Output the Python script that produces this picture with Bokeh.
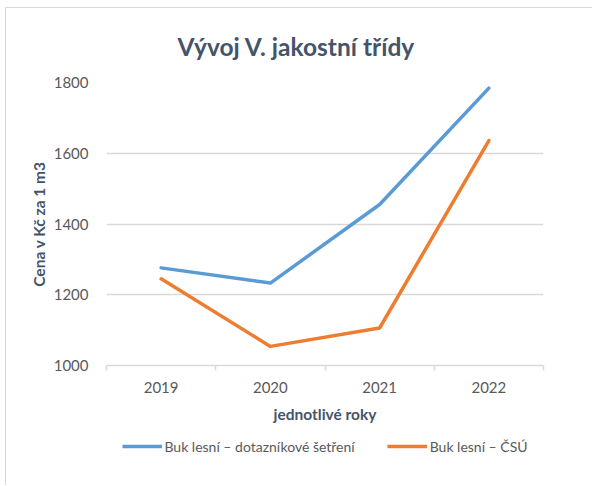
from bokeh.plotting import figure
from bokeh.layouts import column
from bokeh.models import (Range1d, LinearAxis, FixedTicker, Legend, LegendItem, Title, Grid)
from bokeh.embed import file_html
from bokeh.resources import INLINE

years = ["2019", "2020", "2021", "2022"]
dotaznik = [1276, 1233, 1455, 1784]
csu = [1245, 1054, 1106, 1636]
y_ticks = [1000, 1200, 1400, 1600, 1800]
series_names = ["Buk lesní – dotazníkové šetření", "Buk lesní – ČSÚ"]
series_colors = ["#5B9BD5", "#ED7D31"]

FONT = "Lato"
GRID = "#D9D9D9"
DARK = "#44546A"
GRAY = "#595959"

# category slots: each year occupies one unit, centred at i + 0.5
centers = [i + 0.5 for i in range(len(years))]
edges = list(range(len(years) + 1))

p = figure(width=587, height=429, x_range=Range1d(0, len(years)), y_range=Range1d(1000, 1800),
           x_axis_location=None, y_axis_location=None, output_backend="svg",
           toolbar_location=None, min_border_left=100, min_border_right=16,
           min_border_top=74, min_border_bottom=72)
p.outline_line_color = None
for g in p.grid:
    g.visible = False
p.styles = {"border-left": "1px solid #D9D9D9", "border-top": "1px solid #D9D9D9",
            "margin-left": "5px", "margin-top": "7px"}

yaxis = LinearAxis(ticker=FixedTicker(ticks=y_ticks), axis_line_color=None,
                   major_tick_line_color=None, minor_tick_line_color=None,
                   major_label_standoff=12, major_label_text_font=FONT,
                   major_label_text_font_size="15px", major_label_text_color=GRAY,
                   axis_label="Cena v Kč za 1 m3", axis_label_standoff=3,
                   axis_label_text_font=FONT, axis_label_text_font_size="15.5px",
                   axis_label_text_font_style="bold", axis_label_text_color=DARK)
p.add_layout(yaxis, "left")
p.add_layout(Grid(dimension=1, ticker=yaxis.ticker, grid_line_color=GRID, grid_line_width=1.5))

edge_axis = LinearAxis(ticker=FixedTicker(ticks=edges),
                       major_label_overrides={e: "" for e in edges}, major_label_standoff=0,
                       major_tick_in=0, major_tick_out=5, minor_tick_line_color=None,
                       axis_line_color=GRID, axis_line_width=1.5,
                       major_tick_line_color=GRID, major_tick_line_width=1.5)
cat_axis = LinearAxis(ticker=FixedTicker(ticks=centers),
                      major_label_overrides={c: y for c, y in zip(centers, years)},
                      axis_line_color=None, major_tick_line_color=None, minor_tick_line_color=None,
                      major_tick_in=0, major_tick_out=0, major_label_standoff=11,
                      major_label_text_font=FONT, major_label_text_font_size="15px",
                      major_label_text_color=GRAY,
                      axis_label="jednotlivé roky", axis_label_standoff=9,
                      axis_label_text_font=FONT, axis_label_text_font_size="15.5px",
                      axis_label_text_font_style="bold", axis_label_text_color=DARK)
p.add_layout(edge_axis, "below")
p.add_layout(cat_axis, "below")

for vals, col in zip([dotaznik, csu], series_colors):
    p.line(x=centers, y=vals, line_width=3.5, color=col, line_join="round", line_cap="round")

p.add_layout(Title(text="Vývoj V. jakostní třídy", align="left", offset=71,
                   text_font=FONT, text_font_size="24.5px", text_font_style="bold",
                   text_color=DARK, standoff=43), "above")

# legend strip below the chart (series drawn again out of view, only as legend keys)
pl = figure(width=587, height=49, x_range=Range1d(0, 1), y_range=Range1d(0, 1),
            x_axis_location=None, y_axis_location=None, output_backend="svg",
            toolbar_location=None, min_border_left=0, min_border_right=50,
            min_border_top=0, min_border_bottom=0)
pl.outline_line_color = None
for g in pl.grid:
    g.visible = False
pl.styles = {"border-left": "1px solid #D9D9D9", "margin-left": "5px"}
items = []
for name, vals, col in zip(series_names, [dotaznik, csu], series_colors):
    r = pl.line(x=centers, y=vals, line_width=3.5, color=col)
    items.append(LegendItem(label=name, renderers=[r]))
legend = Legend(items=items, orientation="horizontal", location="top_center",
                border_line_color=None, background_fill_alpha=0, label_text_font=FONT,
                label_text_font_size="14px", label_text_color=GRAY, glyph_width=40,
                spacing=32, label_standoff=3, margin=0, padding=5)
pl.add_layout(legend)

layout = column(p, pl, spacing=0)
open("out.html", "w").write(file_html(layout, INLINE))
